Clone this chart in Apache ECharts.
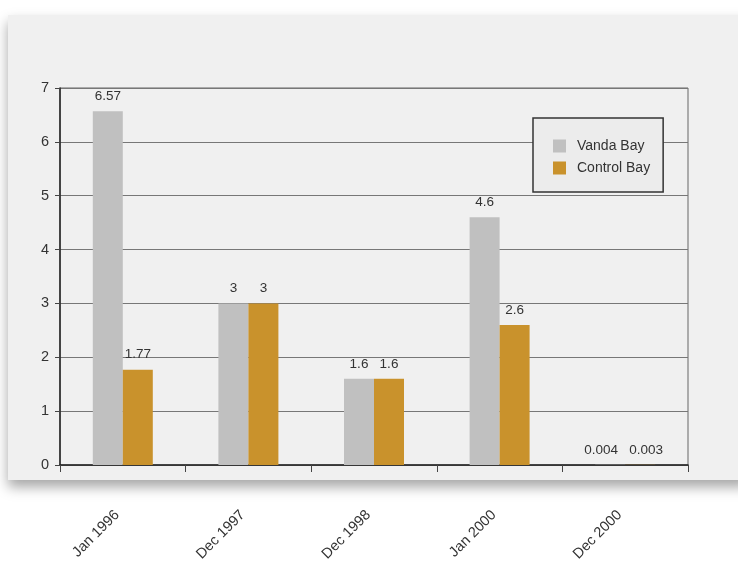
<!DOCTYPE html>
<html>
<head>
<meta charset="utf-8">
<script src="https://cdn.jsdelivr.net/npm/echarts@6/dist/echarts.min.js"></script>
<style>html,body{margin:0;padding:0;background:#fff;}#c{width:738px;height:561px;}</style>
</head>
<body>
<div id="c"></div>
<script>
var categories = ['Jan 1996', 'Dec 1997', 'Dec 1998', 'Jan 2000', 'Dec 2000'];
var vandaBay = [6.57, 3, 1.6, 4.6, 0.004];
var controlBay = [1.77, 3, 1.6, 2.6, 0.003];
var yTicks = [0, 1, 2, 3, 4, 5, 6, 7];

var chart = echarts.init(document.getElementById('c'), null, {renderer: 'canvas'});
var font = 'Helvetica, "Liberation Sans", Arial, sans-serif';
var labelCfg = {
  show: true, position: 'top', distance: 8, color: '#333', fontSize: 13.5, fontFamily: font,
  formatter: function (p) { return String(p.value); }
};
function spreadLast(shift) {
  return function (params) {
    if (params.dataIndex === categories.length - 1) { return {dx: shift}; }
    return {};
  };
}
chart.setOption({
  backgroundColor: '#ffffff',
  animation: false,
  graphic: [{
    type: 'rect', z: -10, silent: true,
    shape: {x: 8, y: 15, width: 740, height: 465},
    style: {fill: '#f0f0f0', shadowBlur: 12, shadowOffsetY: 7, shadowColor: 'rgba(0,0,0,0.35)'}
  }],
  grid: {left: 60, right: 50, top: 88, bottom: 96, outerBoundsMode: 'none', containLabel: false,
         show: true, borderColor: '#666', borderWidth: 1, backgroundColor: 'transparent'},
  legend: {
    orient: 'vertical', left: 533, top: 118,
    padding: [21, 13, 17, 20], itemGap: 8,
    backgroundColor: '#ececec', borderColor: '#333', borderWidth: 1.5,
    itemWidth: 13, itemHeight: 13, icon: 'rect',
    textStyle: {color: '#333', fontSize: 14, fontFamily: font, padding: [0, 0, 0, 6]},
    data: ['Vanda Bay', 'Control Bay']
  },
  xAxis: {
    type: 'category', data: categories,
    axisLine: {lineStyle: {color: '#222', width: 1.5}},
    axisTick: {show: true, length: 7, lineStyle: {color: '#444'}},
    axisLabel: {rotate: 45, margin: 42, padding: [0, 8, 0, 0], color: '#333', fontSize: 14.5, fontFamily: font}
  },
  yAxis: {
    type: 'value', min: yTicks[0], max: yTicks[yTicks.length - 1], interval: 1,
    axisLine: {show: true, lineStyle: {color: '#222', width: 1.5}},
    axisTick: {show: true, length: 5, lineStyle: {color: '#444'}},
    axisLabel: {color: '#333', fontSize: 14.5, fontFamily: font, margin: 11},
    splitLine: {show: true, lineStyle: {color: '#777', width: 1}}
  },
  series: [
    {name: 'Vanda Bay', type: 'bar', data: vandaBay, barWidth: 30, barGap: '0%',
     itemStyle: {color: '#c0c0c0'}, label: labelCfg, labelLayout: spreadLast(-9)},
    {name: 'Control Bay', type: 'bar', data: controlBay, barWidth: 30, barGap: '0%',
     itemStyle: {color: '#c9922c'}, label: labelCfg, labelLayout: spreadLast(6)}
  ]
});
</script>
</body>
</html>
